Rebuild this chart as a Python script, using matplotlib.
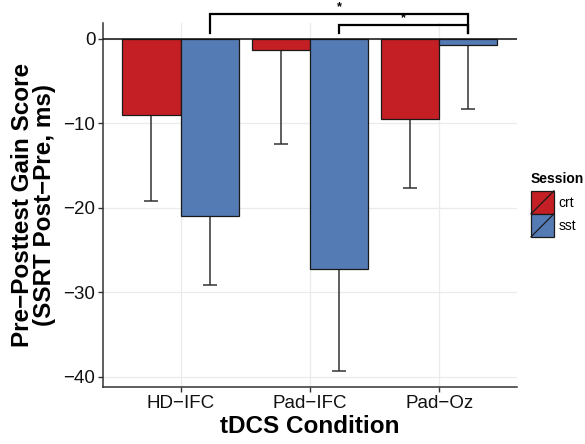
import matplotlib
matplotlib.use("Agg")
import matplotlib.pyplot as plt
import numpy as np
from matplotlib.patches import Rectangle, Patch
from matplotlib.lines import Line2D
from matplotlib.legend_handler import HandlerBase

plt.rcParams['font.family'] = ['Liberation Sans', 'DejaVu Sans']

conditions = ["HD\u2212IFC", "Pad\u2212IFC", "Pad\u2212Oz"]
sessions = ["crt", "sst"]
crt_mean = [-9.0, -1.3, -9.5]
crt_lower = [-19.2, -12.5, -17.7]
sst_mean = [-21.0, -27.3, -0.7]
sst_lower = [-29.1, -39.3, -8.3]
colors = {"crt": "#C41F24", "sst": "#557BB5"}

# significance brackets: (condition index from, condition index to), session of bars
sig_pairs = [(0, 2), (1, 2)]
sig_levels = [2.96, 1.66]

fig = plt.figure(figsize=(5.85, 4.44), dpi=100)
ax = fig.add_axes([103/585, 1-387.3/444, (516.7-103)/585, (387.3-22.7)/444])

x = np.arange(1, len(conditions)+1)
w = 0.45
means = {"crt": crt_mean, "sst": sst_mean}
lowers = {"crt": crt_lower, "sst": sst_lower}
offsets = {"crt": -w/2, "sst": w/2}

for s in sessions:
    m = np.array(means[s]); lo = np.array(lowers[s])
    xs = x + offsets[s]
    ax.errorbar(xs, m, yerr=[m - lo, np.zeros_like(m)], fmt='none', ecolor='#333333',
                elinewidth=1.1, capsize=4.7, capthick=1.1, zorder=2)
    ax.bar(xs, m, width=w, color=colors[s], edgecolor='#1a1a1a', linewidth=0.9, zorder=3)

ax.axhline(0, color='#111111', lw=1.1, zorder=4)

ax.set_xlim(0.4, 3.6)
ax.set_ylim(-41.27, 1.93)
ax.set_xticks(x)
ax.set_xticklabels(conditions)
ax.set_yticks([0, -10, -20, -30, -40])
ax.set_yticklabels(["0", "\u221210", "\u221220", "\u221230", "\u221240"])
ax.grid(True, color='#EBEBEB', lw=0.9, zorder=0)
ax.set_axisbelow(True)
for sp in ['top', 'right']:
    ax.spines[sp].set_visible(False)
for sp in ['left', 'bottom']:
    ax.spines[sp].set_color('#333333')
    ax.spines[sp].set_linewidth(1.1)
ax.tick_params(axis='both', colors='#333333', labelcolor='#111111', labelsize=13.5, length=3.5, width=1.0, pad=2)

ax.set_xlabel("tDCS Condition", fontsize=17.5, fontweight='bold', labelpad=2)
ax.set_ylabel("Pre\u2212Posttest Gain Score\n(SSRT Post\u2212Pre, ms)", fontsize=17.5,
              fontweight='bold', labelpad=5, linespacing=0.95)

# significance brackets
for (a, b), lvl in zip(sig_pairs, sig_levels):
    x1 = x[a] + offsets["sst"]; x2 = x[b] + offsets["sst"]
    ax.plot([x1, x1, x2, x2], [0.68, lvl, lvl, 0.68], color='black', lw=1.6,
            clip_on=False, zorder=5, solid_joinstyle='miter')
    ax.text((x1+x2)/2, lvl + 0.15, "*", ha='center', va='bottom', fontsize=9,
            fontweight='bold', clip_on=False)

class HandlerSlash(HandlerBase):
    def create_artists(self, legend, orig_handle, xdescent, ydescent, width, height, fontsize, trans):
        r = Rectangle((-xdescent, -ydescent), width, height, facecolor=orig_handle.get_facecolor(),
                      edgecolor='#1a1a1a', lw=0.9, transform=trans)
        l = Line2D([-xdescent, -xdescent+width], [-ydescent, -ydescent+height], color='#1a1a1a',
                   lw=0.9, transform=trans)
        return [r, l]

handles = [Patch(facecolor=colors[s]) for s in sessions]
leg = fig.legend(handles, sessions, handler_map={Patch: HandlerSlash()}, loc='upper left',
                 bbox_to_anchor=(531/585, 1-172/444), frameon=False, fontsize=10,
                 title="Session", title_fontproperties={'weight': 'bold', 'size': 10},
                 handlelength=1.65, handleheight=2.17, labelspacing=0.0, handletextpad=0.35,
                 borderpad=0, borderaxespad=0, alignment='left')
leg._legend_box.sep = 3.5

fig.savefig("out.png", dpi=100)
